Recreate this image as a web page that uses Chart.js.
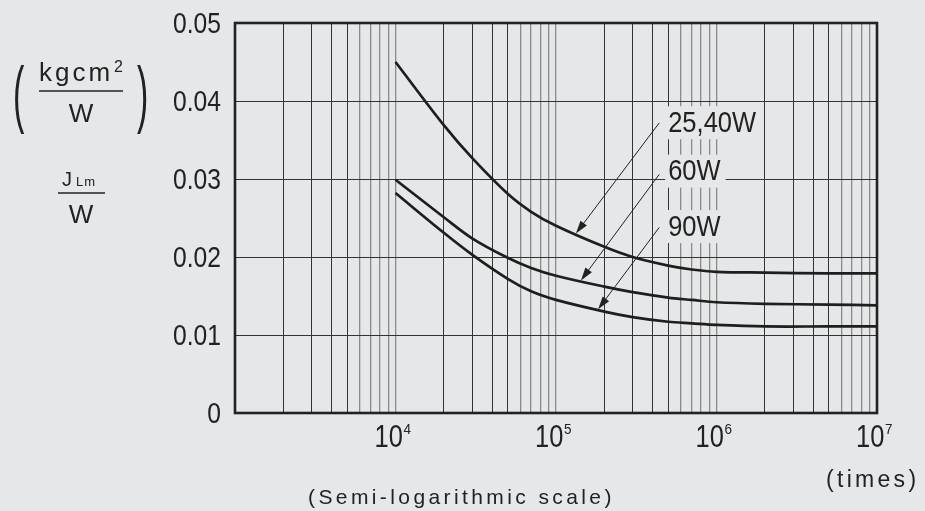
<!DOCTYPE html>
<html><head><meta charset="utf-8">
<script src="https://cdn.jsdelivr.net/npm/chart.js@4.4.1/dist/chart.umd.min.js"></script>
<style>
html,body{margin:0;padding:0;background:#e6e7e9;}
canvas{display:block;}
</style>
</head><body>
<canvas id="c" width="925" height="511"></canvas>
<script>
// ---- data ----
const cycles   = [1e4, 2e4, 3e4, 5e4, 7e4, 1e5, 2e5, 3e5, 5e5, 7e5, 1e6, 2e6, 5e6, 1e7];
const w25_40   = [0.0450, 0.0369, 0.0327, 0.0281, 0.0258, 0.0240, 0.0213, 0.0200, 0.0189, 0.0184, 0.0181, 0.0180, 0.0179, 0.0179];
const w60      = [0.0299, 0.0251, 0.0224, 0.0199, 0.0186, 0.0176, 0.0162, 0.0155, 0.0148, 0.0145, 0.0142, 0.0140, 0.0139, 0.0138];
const w90      = [0.0282, 0.0231, 0.0203, 0.0172, 0.0156, 0.0145, 0.0130, 0.0123, 0.0117, 0.0115, 0.0113, 0.0111, 0.0111, 0.0111];
const seriesNames = ['25,40W', '60W', '90W'];

const yTicks      = [0, 0.01, 0.02, 0.03, 0.04, 0.05];
const yTickLabels = ['0', '0.01', '0.02', '0.03', '0.04', '0.05'];
const xDecades    = [1e3, 1e4, 1e5, 1e6, 1e7];
const xTickExps   = ['', '4', '5', '6', '7'];
const gridMantissas = [1, 2, 3, 4, 5, 6, 7, 8, 9];

// callouts (data coordinates)
const calloutLabelX = [5.0e5, 5.0e5, 5.0e5];
const calloutLabelY = [0.0374, 0.0312, 0.0241];
const calloutTailX  = [4.4e5, 4.4e5, 4.4e5];
const calloutTailY  = [0.0372, 0.0306, 0.0238];
const calloutTipX   = [1.33e5, 1.43e5, 1.83e5];
const calloutTipY   = [0.0230, 0.0170, 0.0133];

const INK = '#222222';
const FONT = '"Liberation Sans", Arial, Helvetica, sans-serif';

function toPoints(xs, ys) { return xs.map((x, i) => ({ x: x, y: ys[i] })); }

function gridTickValues() {
  const out = [];
  for (let d = 0; d < xDecades.length - 1; d++) {
    for (const m of gridMantissas) out.push(xDecades[d] * m);
  }
  out.push(xDecades[xDecades.length - 1]);
  return out;
}

function mantissaOf(v) {
  return Math.round(v / Math.pow(10, Math.floor(Math.log10(v) + 1e-9)));
}

function condText(ctx, txt, x, y, font, sx, align) {
  ctx.save();
  ctx.font = font;
  const w = ctx.measureText(txt).width * sx;
  const x0 = align === 'right' ? x - w : (align === 'center' ? x - w / 2 : x);
  ctx.translate(x0, y);
  ctx.scale(sx, 1);
  ctx.textAlign = 'left';
  ctx.textBaseline = 'alphabetic';
  ctx.fillText(txt, 0, 0);
  ctx.restore();
  return w;
}

const decorPlugin = {
  id: 'decor',
  beforeDraw(chart) {
    const ctx = chart.ctx;
    ctx.save();
    ctx.fillStyle = '#e6e7e9';
    ctx.fillRect(0, 0, chart.width, chart.height);
    ctx.restore();
  },
  afterDraw(chart) {
    const ctx = chart.ctx;
    const xs = chart.scales.x, ys = chart.scales.y;
    const a = chart.chartArea;
    ctx.save();
    ctx.fillStyle = INK;
    ctx.strokeStyle = INK;

    // frame
    ctx.lineWidth = 2.6;
    ctx.strokeRect(a.left, a.top, a.right - a.left, a.bottom - a.top);

    // y tick labels
    yTicks.forEach((v, i) => {
      const py = ys.getPixelForValue(v);
      condText(ctx, yTickLabels[i], 221, py + 10.4, '29px ' + FONT, 0.85, 'right');
    });

    // x tick labels 10^n
    xDecades.forEach((v, i) => {
      if (!xTickExps[i]) return;
      const px = xs.getPixelForValue(v);
      const base = a.bottom + 34;
      condText(ctx, '10', px - 21, base, '31px ' + FONT, 0.82, 'left');
      condText(ctx, xTickExps[i], px + 8, base - 13, '15px ' + FONT, 0.9, 'left');
    });

    // callouts
    for (let i = 0; i < seriesNames.length; i++) {
      const lx = xs.getPixelForValue(calloutLabelX[i]);
      const ly = ys.getPixelForValue(calloutLabelY[i]);
      ctx.save();
      ctx.font = '30px ' + FONT;
      const w = ctx.measureText(seriesNames[i]).width * 0.85;
      ctx.fillStyle = '#e6e7e9';
      ctx.fillRect(lx - 3, ly - 15, w + 8, 33);
      ctx.restore();
      condText(ctx, seriesNames[i], lx, ly + 10.7, '30px ' + FONT, 0.85, 'left');

      const tx = xs.getPixelForValue(calloutTailX[i]);
      const ty = ys.getPixelForValue(calloutTailY[i]);
      const hx = xs.getPixelForValue(calloutTipX[i]);
      const hy = ys.getPixelForValue(calloutTipY[i]);
      const ang = Math.atan2(hy - ty, hx - tx);
      const L = 13, H = 4;
      ctx.lineWidth = 1;
      ctx.beginPath();
      ctx.moveTo(tx, ty);
      ctx.lineTo(hx - Math.cos(ang) * L * 0.8, hy - Math.sin(ang) * L * 0.8);
      ctx.stroke();
      ctx.beginPath();
      ctx.moveTo(hx, hy);
      ctx.lineTo(hx - Math.cos(ang) * L - Math.sin(ang) * H, hy - Math.sin(ang) * L + Math.cos(ang) * H);
      ctx.lineTo(hx - Math.cos(ang) * L + Math.sin(ang) * H, hy - Math.sin(ang) * L - Math.cos(ang) * H);
      ctx.closePath();
      ctx.fill();
    }

    // left axis title: ( kgcm^2 / W )  and  J_Lm / W
    ctx.save();
    ctx.font = '40px ' + FONT;
    ctx.translate(13, 100);
    ctx.scale(0.85, 1.86);
    ctx.fillText('(', 0, 10.3);
    ctx.restore();
    ctx.save();
    ctx.font = '40px ' + FONT;
    ctx.translate(137, 100);
    ctx.scale(0.85, 1.86);
    ctx.fillText(')', 0, 10.3);
    ctx.restore();

    ctx.save();
    ctx.font = '26px ' + FONT;
    ctx.letterSpacing = '3px';
    ctx.fillText('kgcm', 39, 81);
    ctx.restore();
    ctx.font = '16px ' + FONT;
    ctx.fillText('2', 114, 72);
    ctx.lineWidth = 1.6;
    ctx.beginPath(); ctx.moveTo(39, 91); ctx.lineTo(123, 91); ctx.stroke();
    ctx.font = '26px ' + FONT;
    ctx.textAlign = 'center';
    ctx.fillText('W', 81, 122);
    ctx.textAlign = 'left';

    ctx.font = '20px ' + FONT;
    ctx.fillText('J', 62, 186);
    ctx.save();
    ctx.font = '13px ' + FONT;
    ctx.letterSpacing = '1px';
    ctx.fillText('Lm', 76, 186);
    ctx.restore();
    ctx.beginPath(); ctx.moveTo(58, 193); ctx.lineTo(105, 193); ctx.stroke();
    ctx.font = '26px ' + FONT;
    ctx.textAlign = 'center';
    ctx.fillText('W', 81, 223);
    ctx.textAlign = 'left';

    // bottom texts
    ctx.save();
    ctx.font = '23px ' + FONT;
    ctx.letterSpacing = '3.3px';
    ctx.fillText('(times)', 826, 487);
    ctx.restore();
    ctx.save();
    ctx.font = '21px ' + FONT;
    ctx.letterSpacing = '3.4px';
    ctx.fillText('(Semi-logarithmic scale)', 308, 504);
    ctx.restore();

    ctx.restore();
  }
};

const lineStyle = { borderColor: '#1e1e1e', borderWidth: 2.7, pointRadius: 0, fill: false, tension: 0.35 };

new Chart(document.getElementById('c'), {
  type: 'line',
  data: {
    datasets: [
      Object.assign({ label: seriesNames[0], data: toPoints(cycles, w25_40) }, lineStyle),
      Object.assign({ label: seriesNames[1], data: toPoints(cycles, w60) }, lineStyle),
      Object.assign({ label: seriesNames[2], data: toPoints(cycles, w90) }, lineStyle)
    ]
  },
  options: {
    responsive: false,
    animation: false,
    devicePixelRatio: 1,
    layout: { padding: { left: 235, top: 23, right: 48, bottom: 98 } },
    plugins: { legend: { display: false }, tooltip: { enabled: false } },
    scales: {
      x: {
        type: 'logarithmic',
        min: xDecades[0],
        max: xDecades[xDecades.length - 1],
        afterBuildTicks(scale) { scale.ticks = gridTickValues().map(v => ({ value: v })); },
        ticks: { display: false },
        border: { display: false },
        grid: {
          drawTicks: false,
          color(c) {
            const m = c.tick ? mantissaOf(c.tick.value) : 2;
            return (m >= 6 || m === 1) ? '#8a8a8a' : '#333333';
          },
          lineWidth(c) {
            const m = c.tick ? mantissaOf(c.tick.value) : 2;
            return (m >= 6 || m === 1) ? 1.3 : 1;
          }
        }
      },
      y: {
        type: 'linear',
        min: yTicks[0],
        max: yTicks[yTicks.length - 1],
        afterBuildTicks(scale) { scale.ticks = yTicks.map(v => ({ value: v })); },
        ticks: { display: false },
        border: { display: false },
        grid: { drawTicks: false, color: '#333333', lineWidth: 1 }
      }
    }
  },
  plugins: [decorPlugin]
});
</script>
</body></html>
